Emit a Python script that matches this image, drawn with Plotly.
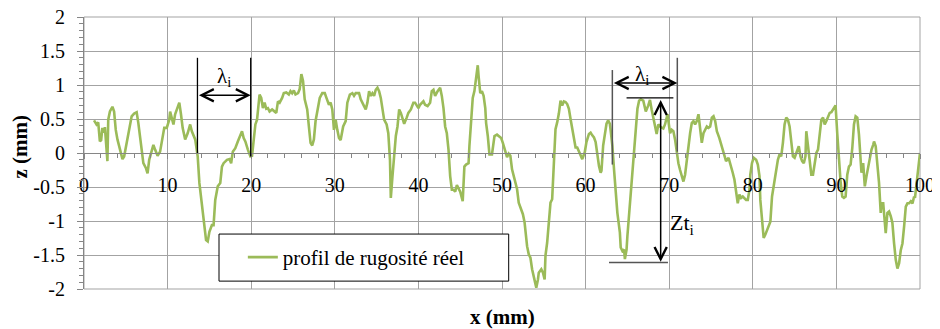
import plotly.graph_objects as go

# ---- data ----
x_mm = [1.2, 1.5, 1.7, 1.9, 2.05, 2.2, 2.4, 2.5, 2.8, 2.9, 3.1, 3.4, 3.6, 3.8, 4.0, 4.3, 4.6, 4.8,
        5.1, 5.4, 5.7, 6.0, 6.3, 6.5, 6.8, 7.1, 7.4, 7.6, 7.8, 8.1, 8.3, 8.5, 8.8, 9.1, 9.4, 9.6,
        9.9, 10.2, 10.3, 10.5, 10.7, 10.9, 11.2, 11.4, 11.6, 11.8, 12.1, 12.4, 12.7, 12.9, 13.3,
        13.6, 13.8, 14.1, 14.4, 14.6, 14.8, 15.0, 15.3, 15.5, 15.7, 16.0, 16.3, 16.5, 16.7, 17.1,
        17.4, 17.6, 17.8, 18.1, 18.4, 18.7, 18.9, 19.1, 19.3, 19.6, 19.9, 20.1, 20.3, 20.5, 20.7,
        20.8, 21.0, 21.2, 21.4, 21.6, 21.8, 22.0, 22.2, 22.5, 22.8, 23.0, 23.2, 23.4, 23.7, 23.9,
        24.2, 24.5, 24.7, 24.9, 25.1, 25.3, 25.6, 25.8, 26.0, 26.2, 26.4, 26.7, 26.9, 27.1, 27.3,
        27.5, 27.7, 28.0, 28.2, 28.5, 28.8, 29.0, 29.3, 29.5, 29.7, 29.9, 30.1, 30.3, 30.5, 30.7,
        31.0, 31.3, 31.5, 31.8, 32.1, 32.3, 32.5, 32.9, 33.1, 33.5, 33.7, 33.9, 34.1, 34.3, 34.5,
        34.7, 34.9, 35.1, 35.3, 35.5, 35.7, 35.9, 36.2, 36.4, 36.6, 36.7, 36.9, 37.1, 37.3, 37.5,
        37.7, 37.9, 38.2, 38.3, 38.6, 38.8, 39.1, 39.4, 39.6, 39.8, 40.0, 40.2, 40.6, 40.8, 41.1,
        41.4, 41.6, 41.8, 42.0, 42.3, 42.6, 42.8, 43.0, 43.2, 43.4, 43.6, 43.8, 44.0, 44.2, 44.4,
        44.6, 44.8, 45.0, 45.3, 45.5, 45.7, 46.0, 46.1, 46.3, 46.5, 46.7, 46.9, 47.1, 47.2, 47.4,
        47.6, 47.8, 48.0, 48.1, 48.3, 48.5, 48.8, 49.0, 49.1, 49.4, 49.6, 49.9, 50.1, 50.4, 50.6,
        50.8, 51.0, 51.2, 51.5, 51.8, 52.0, 52.3, 52.5, 52.7, 52.8, 53.0, 53.2, 53.4, 53.6, 53.8,
        54.0, 54.1, 54.3, 54.4, 54.7, 54.9, 55.1, 55.2, 55.4, 55.6, 55.8, 56.0, 56.2, 56.4, 56.6,
        56.8, 57.0, 57.2, 57.4, 57.6, 57.8, 58.0, 58.2, 58.4, 58.6, 58.8, 59.0, 59.2, 59.4, 59.6,
        59.9, 60.1, 60.4, 60.6, 60.8, 61.0, 61.2, 61.4, 61.6, 61.8, 61.9, 62.1, 62.3, 62.5, 62.7,
        62.9, 63.0, 63.2, 63.4, 63.6, 63.8, 64.1, 64.2, 64.4, 64.6, 64.7, 64.9, 65.0, 65.2, 65.4,
        65.6, 65.8, 66.0, 66.2, 66.4, 66.6, 66.9, 67.2, 67.5, 67.7, 67.9, 68.1, 68.3, 68.5, 68.7,
        69.0, 69.3, 69.5, 69.8, 69.9, 70.1, 70.3, 70.5, 70.7, 70.9, 71.1, 71.3, 71.5, 71.7, 71.9,
        72.1, 72.3, 72.5, 72.7, 72.9, 73.1, 73.3, 73.5, 73.7, 73.9, 74.1, 74.3, 74.5, 74.7, 74.9,
        75.1, 75.3, 75.5, 75.7, 76.0, 76.3, 76.6, 76.8, 77.1, 77.3, 77.6, 77.8, 78.0, 78.2, 78.4,
        78.6, 78.8, 79.0, 79.2, 79.4, 79.6, 79.7, 79.9, 80.1, 80.4, 80.6, 80.8, 80.9, 81.1, 81.3,
        81.5, 81.7, 81.9, 82.1, 82.3, 82.5, 82.7, 82.9, 83.0, 83.2, 83.4, 83.6, 83.8, 84.0, 84.2,
        84.4, 84.6, 84.8, 85.0, 85.2, 85.5, 85.7, 85.9, 86.1, 86.3, 86.4, 86.6, 86.8, 87.0, 87.2,
        87.4, 87.6, 87.8, 88.0, 88.2, 88.4, 88.6, 88.8, 89.0, 89.2, 89.4, 89.6, 89.8, 89.9, 90.1,
        90.3, 90.5, 90.7, 90.9, 91.1, 91.3, 91.5, 91.7, 91.9, 92.1, 92.3, 92.5, 92.7, 92.9, 93.0,
        93.2, 93.4, 93.6, 93.8, 94.0, 94.2, 94.4, 94.5, 94.7, 94.9, 95.1, 95.3, 95.4, 95.6, 95.7,
        95.9, 96.1, 96.3, 96.5, 96.7, 96.9, 97.1, 97.3, 97.5, 97.7, 97.9, 98.1, 98.3, 98.5, 98.7,
        98.9, 99.1, 99.3, 99.4, 99.6, 99.8, 100.0]

z_mm = [0.48, 0.42, 0.45, 0.17, 0.19, 0.37, 0.30, 0.38, -0.12, 0.49, 0.61, 0.68, 0.61, 0.34, 0.20,
        0.05, -0.09, -0.05, 0.15, 0.34, 0.54, 0.58, 0.60, 0.44, 0.15, -0.15, -0.22, -0.30, -0.10,
        0.02, 0.12, 0.05, -0.04, 0.02, 0.22, 0.37, 0.37, 0.49, 0.61, 0.52, 0.42, 0.57, 0.66, 0.74,
        0.57, 0.37, 0.20, 0.29, 0.42, 0.32, 0.20, -0.05, -0.44, -0.74, -1.03, -1.28, -1.30, -1.16,
        -1.06, -1.06, -0.69, -0.49, -0.44, -0.20, -0.15, -0.10,
        -0.09, -0.15, 0.02, 0.07, 0.17, 0.25, 0.32, 0.22, 0.17, 0.05, -0.05, -0.04, 0.22, 0.42, 0.49,
        0.64, 0.86, 0.81, 0.66, 0.74, 0.65, 0.66, 0.61, 0.64, 0.61, 0.59, 0.76, 0.74, 0.81, 0.88,
        0.89, 0.86, 0.91, 0.88, 0.92, 0.86, 0.88, 0.94, 1.16, 1.06, 0.79, 0.64, 0.39, 0.15, 0.11,
        0.20, 0.47, 0.71, 0.81, 0.88, 0.88, 0.81, 0.71, 0.74, 0.64, 0.34, 0.49, 0.34, 0.22, 0.19,
        0.39, 0.47, 0.74, 0.86, 0.88, 0.84, 0.88, 0.88, 0.79, 0.69, 0.64, 0.74, 0.91, 0.84, 0.88,
        0.84, 0.93, 0.96, 0.91, 0.81, 0.66, 0.49, 0.42, 0.29, -0.10, -0.66, -0.34, -0.05, 0.25, 0.39,
        0.64, 0.59, 0.49, 0.43, 0.52, 0.59, 0.64, 0.74, 0.74, 0.69, 0.66, 0.71, 0.76, 0.71, 0.69,
        0.74, 0.91, 0.93, 0.84, 0.91, 0.96, 0.84, 0.66, 0.39, 0.29, 0.05, -0.34, -0.54, -0.54, -0.57,
        -0.47, -0.52, -0.57, -0.71, -0.20, -0.17, -0.15, 0.10, 0.54, 0.81, 0.91, 1.13, 1.29, 1.13, 0.88,
        0.91, 0.84, 0.66, 0.44, 0.25, -0.02, -0.02, 0.17, 0.25, 0.27, 0.25, 0.22, 0.15, 0.04, -0.06,
        -0.01, -0.04, -0.24, -0.38, -0.53, -0.73, -0.83, -0.90, -1.02, -1.17, -1.37, -1.49, -1.54, -1.71, -1.81,
        -1.91, -1.98, -1.86, -1.76, -1.71, -1.76, -1.86, -1.51, -1.32, -1.07, -0.73, -0.68, -0.19, 0.35, 0.45,
        0.58, 0.77, 0.70, 0.76, 0.75, 0.72, 0.65, 0.50, 0.35, 0.18, 0.08, 0.08, 0.03, -0.04, -0.09,
        0.01, 0.16, 0.28, 0.30, 0.26, 0.23, 0.16, -0.04, -0.19, -0.29, -0.26, 0.11, 0.30, 0.43, 0.48,
        0.43, 0.33, 0.11, -0.24, -0.58, -0.88, -1.17, -1.39, -1.44, -1.42, -1.56, -1.42, -1.22, -0.93, -0.58,
        -0.24, 0.01, 0.26, 0.65, 0.77, 0.79, 0.77, 0.61, 0.70, 0.78, 0.64, 0.52, 0.45, 0.28, 0.42,
        0.38, 0.36, 0.42, 0.57, 0.47, 0.29, 0.34, 0.32, 0.20, 0.00, -0.15, -0.25, -0.34, -0.42, -0.32,
        -0.10, 0.10, 0.29, 0.44, 0.47, 0.42, 0.47, 0.57, 0.34, 0.15, 0.29, 0.34, 0.39, 0.37, 0.39,
        0.52, 0.54, 0.47, 0.32, 0.22, 0.10, -0.05, -0.12, -0.07, -0.15, -0.29, -0.39, -0.54, -0.74, -0.61,
        -0.66, -0.64, -0.66, -0.69, -0.69, -0.54, -0.32, -0.15, -0.07, -0.10, -0.17, -0.34, -0.69, -1.03, -1.25,
        -1.20, -1.13, -1.06, -1.01, -0.64, -0.49, -0.34, -0.20, -0.10, -0.02, -0.05, 0.15, 0.42, 0.52, 0.49,
        0.39, 0.20, -0.05, -0.07, 0.00, 0.10, -0.05, -0.12, -0.15, -0.05, 0.32, 0.10, -0.15, -0.32, -0.32,
        -0.17, 0.00, 0.05, 0.29, 0.49, 0.52, 0.42, 0.47, 0.54, 0.59, 0.60, 0.64, 0.69, 0.70, 0.29, -0.15,
        -0.42, -0.64, -0.66, -0.64, -0.32, -0.20, -0.17, 0.07, 0.42, 0.54, 0.52, 0.27, -0.15, -0.29, -0.15,
        -0.49, -0.34, -0.20, -0.05, 0.05, 0.12, 0.17, 0.10, -0.15, -0.44, -0.88, -0.74, -0.74, -0.88, -1.18,
        -0.88, -0.86, -0.93, -1.03, -1.33, -1.57, -1.70, -1.62, -1.43, -1.33, -1.08, -0.79, -0.74, -0.74, -0.71,
        -0.74, -0.64, -0.66, -0.44, -0.25, 0.00, 0.20]

x_ticks = [0, 10, 20, 30, 40, 50, 60, 70, 80, 90, 100]
x_tick_labels = ["0", "10", "20", "30", "40", "50", "60", "70", "80", "90", "100"]
y_ticks = [-2, -1.5, -1, -0.5, 0, 0.5, 1, 1.5, 2]
y_tick_labels = ["-2", "-1.5", "-1", "-0.5", "0", "0.5", "1", "1.5", "2"]
series_name = "profil de rugosité réel"

# ---- styling ----
FONT = "Liberation Serif, Times New Roman, serif"
GRID = "#a3a3a3"
AXC = "#868686"
GREEN = "#9BBB59"
DARK = "#555555"

fig = go.Figure()
fig.add_trace(go.Scatter(x=x_mm, y=z_mm, mode="lines", name=series_name,
                         line=dict(color=GREEN, width=2.6), showlegend=True))

# page body has an 8px default margin: the figure is sized so the plot area lands
# at page pixels x 84..920, y 17..289
fig.update_layout(
    width=932, height=321,
    margin=dict(l=76, r=20, t=9, b=40, autoexpand=False),
    paper_bgcolor="white", plot_bgcolor="white",
    font=dict(family=FONT, size=20, color="black"),
    showlegend=True,
    legend=dict(x=0.19, xanchor="left", y=0.116, yanchor="middle",
                bgcolor="rgba(0,0,0,0)", borderwidth=0,
                font=dict(family=FONT, size=21, color="black")),
    xaxis=dict(range=[0, 100], tickmode="array", tickvals=x_ticks, ticktext=x_tick_labels,
               showgrid=True, gridcolor=GRID, gridwidth=1, zeroline=False,
               showline=True, linecolor=AXC, linewidth=1,
               anchor="free", position=0.5, ticklabeloverflow="allow",
               ticks="outside", ticklen=5, tickcolor=AXC, ticklabelstandoff=9,
               minor=dict(tickmode="linear", tick0=0, dtick=2, ticks="outside",
                          ticklen=4, tickcolor=AXC, showgrid=False),
               tickfont=dict(family=FONT, size=20, color="black")),
    yaxis=dict(range=[-2, 2], tickmode="array", tickvals=y_ticks, ticktext=y_tick_labels,
               showgrid=True, gridcolor=GRID, gridwidth=1, zeroline=False,
               showline=True, linecolor=AXC, linewidth=1, ticklabeloverflow="allow",
               ticks="outside", ticklen=6, tickcolor=AXC, ticklabelstandoff=8,
               minor=dict(tickmode="linear", tick0=0, dtick=0.1, ticks="outside",
                          ticklen=4, tickcolor=AXC, showgrid=False),
               tickfont=dict(family=FONT, size=20, color="black")),
)

shapes = [
    # plot frame
    dict(type="rect", xref="paper", yref="paper", x0=0, x1=1, y0=0, y1=1,
         line=dict(color=GRID, width=1), layer="below"),
    # legend box
    dict(type="rect", xref="paper", yref="paper", x0=0.1615, x1=0.508, y0=0.029, y1=0.202,
         fillcolor="white", line=dict(color="black", width=1), layer="above"),
    # lambda 1 limits
    dict(type="line", x0=13.57, x1=13.57, y0=1.40, y1=0.0, line=dict(color="black", width=1.3)),
    dict(type="line", x0=19.94, x1=19.94, y0=1.40, y1=-0.05, line=dict(color="black", width=1.3)),
    # lambda 2 limits
    dict(type="line", x0=63.2, x1=63.2, y0=1.22, y1=-0.17, line=dict(color=DARK, width=1.5)),
    dict(type="line", x0=70.97, x1=70.97, y0=1.40, y1=0.02, line=dict(color=DARK, width=1.5)),
    # Zt limits
    dict(type="line", x0=64.9, x1=70.5, y0=0.81, y1=0.81, line=dict(color="black", width=1.3)),
    dict(type="line", x0=62.8, x1=69.85, y0=-1.61, y1=-1.61, line=dict(color=DARK, width=1.5)),
]
fig.update_layout(shapes=shapes)

def dbl_arrow(x0, y0, x1, y1):
    return dict(x=x1, y=y1, ax=x0, ay=y0, xref="x", yref="y", axref="x", ayref="y",
                text="", showarrow=True, arrowside="end+start", arrowhead=5, startarrowhead=5,
                arrowsize=1.6, startarrowsize=1.6, arrowwidth=1.5, arrowcolor="black",
                standoff=0, startstandoff=0)

annotations = [
    dbl_arrow(13.57, 0.85, 19.94, 0.85),
    dbl_arrow(63.2, 1.03, 70.97, 1.03),
    dbl_arrow(68.98, 0.80, 68.98, -1.60),
    dict(x=16.7, y=1.12, xref="x", yref="y", text="λ<sub>i</sub>", showarrow=False,
         xanchor="center", yanchor="middle", font=dict(family=FONT, size=21, color="black")),
    dict(x=66.7, y=1.14, xref="x", yref="y", text="λ<sub>i</sub>", showarrow=False,
         xanchor="center", yanchor="middle", font=dict(family=FONT, size=21, color="black")),
    dict(x=69.9, y=-1.05, xref="x", yref="y", text="Zt<sub>i</sub>", showarrow=False,
         xanchor="left", yanchor="middle", font=dict(family=FONT, size=22, color="black")),
    dict(x=0.5, y=-0.102, xref="paper", yref="paper", text="<b>x (mm)</b>", showarrow=False,
         xanchor="center", yanchor="middle", font=dict(family=FONT, size=21, color="black")),
    dict(x=-0.0765, y=0.524, xref="paper", yref="paper", text="<b>z (mm)</b>", showarrow=False,
         textangle=-90, xanchor="center", yanchor="middle",
         font=dict(family=FONT, size=21, color="black")),
]
fig.update_layout(annotations=annotations)

fig.write_html("out.html")
